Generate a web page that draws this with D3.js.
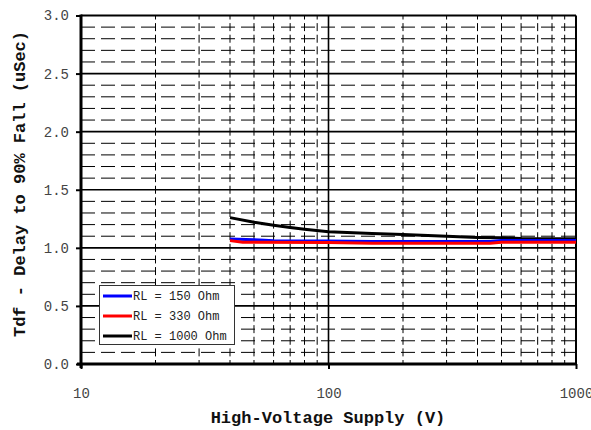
<!DOCTYPE html>
<html><head><meta charset="utf-8">
<script src="https://cdn.jsdelivr.net/npm/d3@7"></script>
<style>html,body{margin:0;padding:0;background:#fff;}svg{display:block;}</style>
</head><body>
<svg id="chart" width="591" height="430"></svg>
<script>
// ---- data ----
const xTicks = [10, 100, 1000];
const xTickLabels = ["10", "100", "1000"];
const yTicks = [0, 0.5, 1.0, 1.5, 2.0, 2.5, 3.0];
const yTickLabels = ["0.0", "0.5", "1.0", "1.5", "2.0", "2.5", "3.0"];
const seriesNames = ["RL = 150 Ohm", "RL = 330 Ohm", "RL = 1000 Ohm"];
const seriesColors = ["#0000ff", "#ff0000", "#000000"];

const v150 = [40, 50, 55, 60, 100, 150, 300, 450, 500, 1000];
const t150 = [1.075, 1.07, 1.065, 1.06, 1.058, 1.055, 1.055, 1.055, 1.063, 1.063];
const v330 = [40, 45, 100, 150, 450, 500, 1000];
const t330 = [1.062, 1.048, 1.046, 1.04, 1.04, 1.047, 1.047];
const v1000 = [40, 50, 60, 70, 80, 100, 150, 200, 300, 400, 500, 600, 1000];
const t1000 = [1.26, 1.22, 1.195, 1.175, 1.16, 1.138, 1.123, 1.115, 1.1, 1.09, 1.086, 1.08, 1.078];

const xLabel = "High-Voltage Supply (V)";
const yLabel = "Tdf - Delay to 90% Fall (uSec)";

// ---- layout ----
const svg = d3.select("#chart");
const L = 81, R = 576, T = 15.5, B = 364;
const x = d3.scaleLog().domain([10, 1000]).range([L, R]);
const y = d3.scaleLinear().domain([0, 3]).range([B, T]);
const mono = "'Liberation Mono','Courier New',monospace";

// minor grid values
const xMinor = [];
[10, 100].forEach(d => { for (let k = 2; k <= 9; k++) xMinor.push(d * k); });
const yMinor = d3.range(1, 30).filter(i => i % 5 !== 0).map(i => i / 10);

const grid = svg.append("g");
const p = y(0) - y(0.1);
const dashV = 8;
// horizontal minor dashed
grid.selectAll(".hmin").data(yMinor).join("line")
  .attr("x1", L).attr("x2", R).attr("y1", d => y(d)).attr("y2", d => y(d))
  .attr("stroke", "#000").attr("stroke-width", 1)
  .attr("stroke-dasharray", "14,6");
// vertical minor dashed
grid.selectAll(".vmin").data(xMinor).join("line")
  .attr("x1", d => x(d)).attr("x2", d => x(d)).attr("y1", T).attr("y2", B)
  .attr("stroke", "#000").attr("stroke-width", 1)
  .attr("stroke-dasharray", dashV + "," + (p - dashV))
  .attr("stroke-dashoffset", dashV / 2);
// major grid
grid.selectAll(".hmaj").data(yTicks.slice(1, -1)).join("line")
  .attr("x1", L).attr("x2", R).attr("y1", d => y(d)).attr("y2", d => y(d))
  .attr("stroke", "#000").attr("stroke-width", 1.6);
grid.append("line").attr("x1", x(100)).attr("x2", x(100)).attr("y1", T).attr("y2", B)
  .attr("stroke", "#000").attr("stroke-width", 1.6);
// top & right border
grid.append("line").attr("x1", L).attr("x2", R).attr("y1", T).attr("y2", T).attr("stroke", "#000").attr("stroke-width", 2);
grid.append("line").attr("x1", R).attr("x2", R).attr("y1", T).attr("y2", B).attr("stroke", "#000").attr("stroke-width", 2);

// ---- series ----
const series = [
  { v: v150, t: t150 },
  { v: v330, t: t330 },
  { v: v1000, t: t1000 }
];
const line = d3.line().x(d => x(d[0])).y(d => y(d[1]));
const order = [2, 0, 1];
order.forEach(i => {
  const s = series[i];
  svg.append("path").datum(s.v.map((v, j) => [v, s.t[j]]))
    .attr("d", line).attr("fill", "none")
    .attr("stroke", seriesColors[i]).attr("stroke-width", 3);
});

// ---- axes ----
const yAxis = d3.axisLeft(y).tickValues(yTicks).tickFormat((d, i) => yTickLabels[i]).tickSize(5).tickPadding(7);
const gy = svg.append("g").attr("transform", `translate(${L},0)`).call(yAxis);
gy.select(".domain").remove();
gy.selectAll(".tick line").attr("stroke", "#000").attr("stroke-width", 2);
gy.selectAll("text").attr("font-family", mono).attr("font-size", 14).attr("fill", "#444");

const xAxis = d3.axisBottom(x).tickValues(xTicks).tickFormat((d, i) => xTickLabels[i]).tickSize(5).tickPadding(19);
const gx = svg.append("g").attr("transform", `translate(0,${B})`).call(xAxis);
gx.select(".domain").remove();
gx.selectAll(".tick line").attr("stroke", "#000").attr("stroke-width", 2);
gx.selectAll("text").attr("font-family", mono).attr("font-size", 14).attr("fill", "#444");

// axis lines (thick)
svg.append("line").attr("x1", L).attr("x2", L).attr("y1", T - 1).attr("y2", B + 4).attr("stroke", "#000").attr("stroke-width", 3);
svg.append("line").attr("x1", L - 4).attr("x2", R + 1).attr("y1", B).attr("y2", B).attr("stroke", "#000").attr("stroke-width", 3);

// ---- titles ----
svg.append("text").attr("x", 328).attr("y", 423).attr("text-anchor", "middle")
  .attr("font-family", mono).attr("font-weight", "bold").attr("font-size", 17).attr("fill", "#111")
  .text(xLabel);
svg.append("text").attr("transform", "translate(25,184) rotate(-90)").attr("text-anchor", "middle")
  .attr("font-family", mono).attr("font-weight", "bold").attr("font-size", 17).attr("fill", "#111")
  .text(yLabel);

// ---- legend ----
const lg = svg.append("g");
lg.append("rect").attr("x", 99.5).attr("y", 285.5).attr("width", 135).attr("height", 59)
  .attr("fill", "#fff").attr("stroke", "#333").attr("stroke-width", 1);
seriesNames.forEach((n, i) => {
  const yy = 296 + i * 20;
  lg.append("line").attr("x1", 103).attr("x2", 132).attr("y1", yy).attr("y2", yy)
    .attr("stroke", seriesColors[i]).attr("stroke-width", 3);
  lg.append("text").attr("x", 133).attr("y", yy + 4).attr("font-family", mono)
    .attr("font-size", 12).attr("fill", "#222").text(n);
});
</script>
</body></html>
